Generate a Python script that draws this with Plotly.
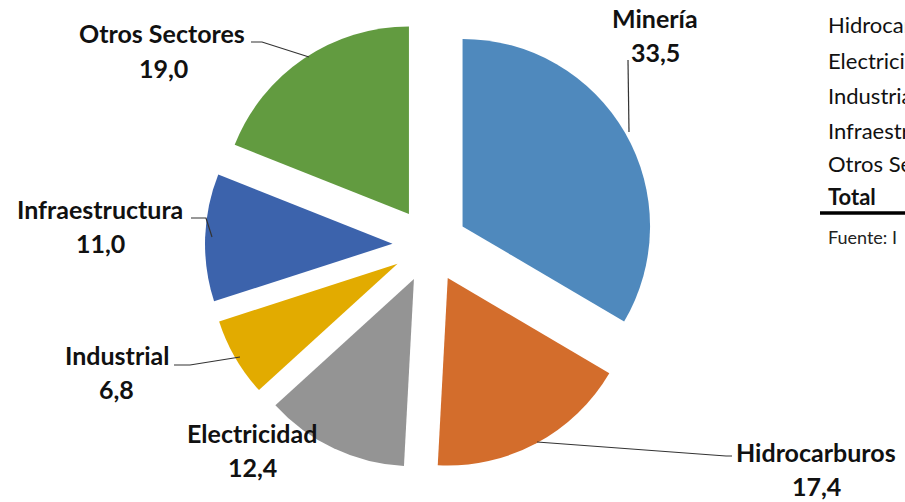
import plotly.graph_objects as go

W, H = 905, 502

# Sector shares (%)
sectors = ["Minería", "Hidrocarburos", "Electricidad", "Industrial", "Infraestructura", "Otros Sectores"]
shares = [33.5, 17.4, 12.4, 6.8, 11.0, 19.0]
colors = ["#4F89BD", "#D36D2C", "#949494", "#E2AB00", "#3C63AC", "#629B40"]

# Side table rows (partly outside the visible area)
table_rows = ["Hidrocarburos", "Electricidad", "Industrial", "Infraestructura", "Otros Sectores"]
table_total = "Total"
table_source = "Fuente: I"

FAMILY = "Lato, Carlito, Calibri, sans-serif"
LABEL_FONT = dict(family=FAMILY, size=25, color="#111111")
TABLE_FONT = dict(family=FAMILY, size=22, color="#111111")


def px(x, y):
    """pixel position -> paper coordinates"""
    return x / W, 1 - y / H


def fmt(v):
    return f"{v:.1f}".replace(".", ",")


# pie geometry: centre and outer box (radius incl. pull)
cx, cy, half = 430, 245, 225
fig = go.Figure(
    go.Pie(
        labels=sectors,
        values=shares,
        sort=False,
        direction="clockwise",
        rotation=0,
        pull=[0.2] * len(shares),
        marker=dict(colors=colors, line=dict(width=0)),
        textinfo="none",
        hoverinfo="label+value",
        showlegend=False,
        domain=dict(x=[(cx - half) / W, (cx + half) / W],
                    y=[1 - (cy + half) / H, 1 - (cy - half) / H]),
    )
)

# label centres: (x, name line y, value line x, value line y), pixel units
label_pos = {
    "Minería": (655, 18, 655, 52),
    "Hidrocarburos": (816, 452, 816, 486),
    "Electricidad": (252, 433, 252, 467),
    "Industrial": (117, 355, 117, 389),
    "Infraestructura": (100, 209, 100, 243),
    "Otros Sectores": (162, 33, 163, 68),
}
leaders = {
    "Minería": [(628, 60), (629, 132)],
    "Hidrocarburos": [(732, 456), (726, 456), (537, 442)],
    "Industrial": [(174, 365), (190, 365), (240, 357)],
    "Infraestructura": [(191, 218), (206, 218), (212, 237)],
    "Otros Sectores": [(251, 42), (262, 42), (309, 57)],
}

annotations = []
for name, val in zip(sectors, shares):
    nx, ny, vx, vy = label_pos[name]
    for tx, ty, txt in ((nx, ny, name), (vx, vy, fmt(val))):
        x, y = px(tx, ty)
        annotations.append(dict(
            x=x, y=y, xref="paper", yref="paper", xanchor="center", yanchor="middle",
            text=f"<b>{txt}</b>", showarrow=False, font=LABEL_FONT,
        ))

shapes = []
for name, pts in leaders.items():
    path = "M " + " L ".join(f"{px(a, b)[0]:.5f},{px(a, b)[1]:.5f}" for a, b in pts)
    shapes.append(dict(type="path", path=path, xref="paper", yref="paper",
                       line=dict(color="#333333", width=1.2)))

# side table
row_y = [25, 60, 95, 130, 164]
for txt, ry in zip(table_rows, row_y):
    x, y = px(826, ry)
    annotations.append(dict(x=x, y=y, xref="paper", yref="paper", xanchor="left",
                            yanchor="middle", text=txt, showarrow=False, font=TABLE_FONT))
x, y = px(826, 196)
annotations.append(dict(x=x, y=y, xref="paper", yref="paper", xanchor="left",
                        yanchor="middle", text=f"<b>{table_total}</b>", showarrow=False,
                        font=TABLE_FONT))
x, y = px(826, 237)
annotations.append(dict(x=x, y=y, xref="paper", yref="paper", xanchor="left",
                        yanchor="middle", text=table_source, showarrow=False,
                        font=dict(family=FAMILY, size=18, color="#222222")))
x0, y0 = px(820, 213)
x1, _ = px(905, 213)
shapes.append(dict(type="line", x0=x0, x1=x1, y0=y0, y1=y0, xref="paper", yref="paper",
                   line=dict(color="#000000", width=3.5)))

fig.update_layout(
    width=W, height=H,
    margin=dict(l=0, r=0, t=0, b=0),
    paper_bgcolor="white", plot_bgcolor="white",
    annotations=annotations, shapes=shapes,
    separators=",.",
)

fig.write_html("out.html", config={"displayModeBar": False})
